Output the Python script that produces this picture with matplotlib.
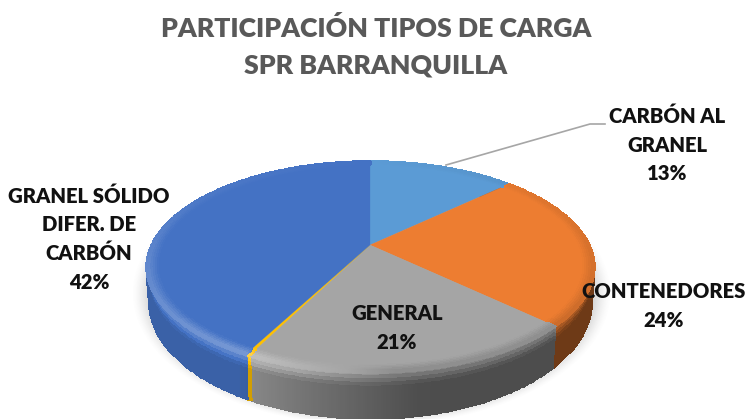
import numpy as np
import matplotlib
matplotlib.use("Agg")
import matplotlib.pyplot as plt
plt.rcParams["font.family"] = "Lato"

# values clockwise from 12 o'clock, the yellow sliver has no label in the original
valores = [12.9, 24.2, 20.35, 0.25, 42.3]
colores = ["#5b9bd5", "#ed7d31", "#a5a5a5", "#ffc000", "#4472c4"]
titulo = "PARTICIPACIÓN TIPOS DE CARGA\nSPR BARRANQUILLA"
etiquetas = ["CARBÓN AL\nGRANEL\n13%", "CONTENEDORES\n24%", "GENERAL\n21%",
             "GRANEL SÓLIDO\nDIFER. DE\nCARBÓN\n42%"]
pos_etiquetas = [(667, 145), (664, 306), (397, 328), (89, 239)]

# pie geometry in pixels
CX, CY = 370, 245
SX, SY = 219, 101
K = 0.204


def proyectar(r, th):
    # disc to picture, projective so the wedges look tilted like the 3D pie
    u = r * np.sin(th)
    v = r * np.cos(th)
    w = 1 + K * v
    return CX + SX * u / w, CY - SY * v / w


def prof(th):
    return 32 - 14 * np.cos(th)


def mult_lado(th):
    return np.interp(np.degrees(th), [0, 170, 210, 360], [0.45, 0.47, 0.85, 0.85])


def mult_brillo(th):
    return np.interp(np.degrees(th), [0, 90, 130, 175, 205, 240, 300, 360],
                     [1.0, 0.9, 0.85, 0.85, 1.3, 1.22, 1.05, 1.0])


def tono(color, m):
    c = np.array(matplotlib.colors.to_rgb(color))
    m = np.asarray(m)[..., None]
    return np.clip(np.where(m <= 1, c * m, c + (1 - c) * (m - 1)), 0, 1)


fig = plt.figure(figsize=(7.48, 4.19), dpi=100)
ax = fig.add_axes([0, 0, 1, 1])
ax.set_xlim(0, 748)
ax.set_ylim(419, 0)
ax.axis("off")

# soft shadow under the pie
gx, gy = np.meshgrid(np.arange(748), np.arange(419))
d = np.sqrt(((gx - 371) / 240) ** 2 + ((gy - 293) / 133) ** 2)
sombra = np.zeros((419, 748, 4))
sombra[..., :3] = 0.45
sombra[..., 3] = np.clip((1.0 - d) / 0.1, 0, 1) ** 1.5 * 0.45
ax.imshow(sombra, extent=(0, 748, 419, 0), aspect="auto", zorder=1)

limites = np.cumsum([0] + valores) / sum(valores) * 2 * np.pi

for i, color in enumerate(colores):
    n = max(int((limites[i + 1] - limites[i]) * 120), 2)
    th = np.linspace(limites[i], limites[i + 1], n + 1)

    # side wall, top part of it fades from the bevel colour
    s = np.array([0, 0.08, 0.16, 0.24, 0.32, 1.0])
    TH, S = np.meshgrid(th, s)
    x, y = proyectar(1.0, TH)
    x = x - (x - CX) * 0.012 * S
    y = y + prof(TH) * S
    thc = (th[:-1] + th[1:]) / 2
    sc = (s[:-1] + s[1:]) / 2
    THC, SC = np.meshgrid(thc, sc)
    m = mult_lado(THC) + (mult_brillo(THC) - mult_lado(THC)) * np.clip(1 - SC / 0.32, 0, 1)
    ax.pcolormesh(x, y, tono(color, m), edgecolors="face", linewidth=0.8, zorder=2)

    # flat top
    tx, ty = proyectar(1.0, th)
    ax.fill(np.r_[CX, tx], np.r_[CY, ty], color=color, lw=0.2, zorder=3)

    # bevel on the rim
    r = np.linspace(0.955, 1.0, 6)
    TH, R = np.meshgrid(th, r)
    x, y = proyectar(R, TH)
    rc = (r[:-1] + r[1:]) / 2
    THC, RC = np.meshgrid(thc, rc)
    m = 1 + (mult_brillo(THC) - 1) * (RC - r[0]) / (r[-1] - r[0])
    ax.pcolormesh(x, y, tono(color, m), edgecolors="face", linewidth=0.8, zorder=4)

# leader line for the coal label
ax.plot([446, 590, 605], [165, 124, 124], color="#a6a6a6", lw=1.2, zorder=5)

ax.text(376, 47, titulo, ha="center", va="center", fontsize=19.2, fontweight="heavy",
        color="#595959", linespacing=1.62, zorder=6)
for texto, (px, py) in zip(etiquetas, pos_etiquetas):
    ax.text(px, py, texto, ha="center", va="center", fontsize=14.6, fontweight="heavy",
            color="#111111", linespacing=1.58, zorder=6)

fig.savefig("out.png", dpi=100)
